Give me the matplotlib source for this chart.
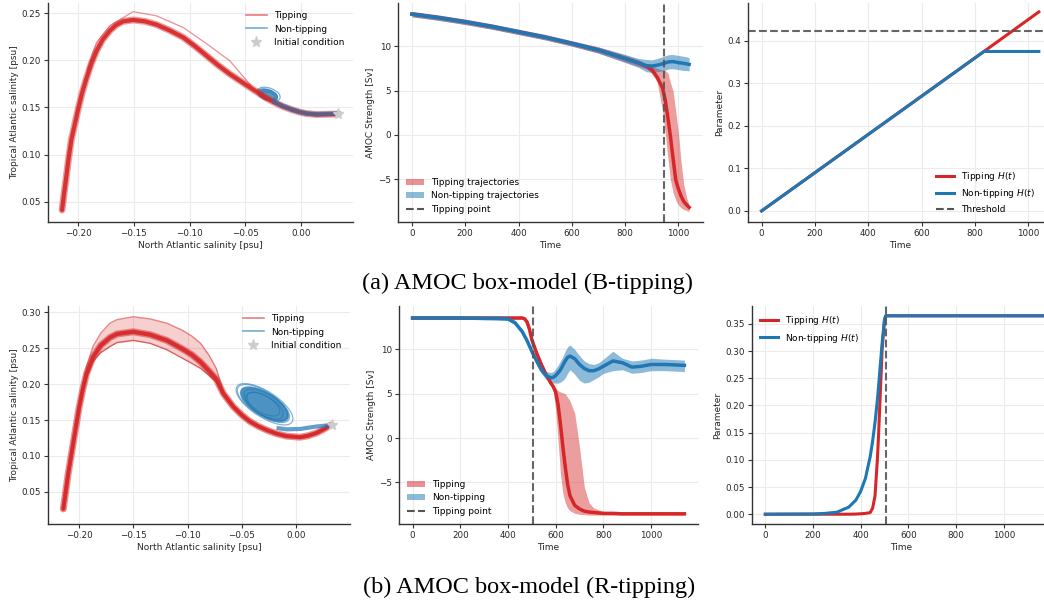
import matplotlib
matplotlib.use('Agg')
import matplotlib.pyplot as plt
from matplotlib.patches import Ellipse, Patch
from matplotlib.lines import Line2D

# ---------------- data: (a) B-tipping ----------------
# phase space, tipping bundle (centre path)
b_tip_x = [0.0335, 0.025, 0.014, 0.005, -0.001, -0.008, -0.016, -0.024, -0.031, -0.0428,
           -0.053, -0.0638, -0.075, -0.0847, -0.095, -0.1057, -0.118, -0.1296, -0.140, -0.1506,
           -0.1596, -0.166, -0.1716, -0.178, -0.1835, -0.188, -0.1925, -0.1965, -0.200, -0.203,
           -0.206, -0.2085, -0.2105, -0.2125, -0.2144]
b_tip_y = [0.1430, 0.1428, 0.1425, 0.1435, 0.1450, 0.1475, 0.1510, 0.1555, 0.1600, 0.1690,
           0.1770, 0.1855, 0.1955, 0.2050, 0.2150, 0.2245, 0.2320, 0.2380, 0.2415, 0.2430,
           0.2415, 0.2375, 0.2315, 0.2220, 0.2100, 0.1970, 0.1810, 0.1650, 0.1480, 0.1320,
           0.1160, 0.0960, 0.0770, 0.0590, 0.0410]
# an outlying tipping trajectory
b_out_x = [-0.045, -0.0638, -0.085, -0.1057, -0.13, -0.1506, -0.1716, -0.1835, -0.192]
b_out_y = [0.1735, 0.1995, 0.2180, 0.2350, 0.2475, 0.2518, 0.2368, 0.2190, 0.1900]
# non-tipping path and its loops
b_nt_x = [0.0335, 0.025, 0.014, 0.005, -0.001, -0.008, -0.016, -0.024]
b_nt_y = [0.1435, 0.1432, 0.1428, 0.1437, 0.1452, 0.1478, 0.1515, 0.1560]
b_loop_cx = [-0.029, -0.030, -0.0285, -0.029]
b_loop_cy = [0.1640, 0.1635, 0.1630, 0.1625]
b_loop_w = [0.022, 0.019, 0.016, 0.012]
b_loop_h = [0.013, 0.011, 0.0095, 0.007]
b_init = (0.0335, 0.1432)

# time series
b_time = [0, 100, 200, 300, 400, 500, 600, 700, 800, 850, 880, 900, 920, 940, 950, 960,
          970, 980, 990, 1000, 1010, 1020, 1030, 1040]
b_nontip_mean = [13.6, 13.2, 12.73, 12.2, 11.6, 11.0, 10.3, 9.55, 8.6, 8.1, 7.8, 7.75, 7.85,
                 8.0, 8.1, 8.2, 8.25, 8.25, 8.2, 8.13, 8.1, 8.05, 8.0, 7.94]
b_nontip_lo = [13.3, 12.9, 12.43, 11.9, 11.3, 10.7, 10.0, 9.2, 8.15, 7.6, 7.1, 7.05, 7.1,
               7.2, 7.3, 7.4, 7.45, 7.45, 7.4, 7.35, 7.3, 7.25, 7.25, 7.2]
b_nontip_hi = [13.9, 13.5, 13.03, 12.5, 11.9, 11.3, 10.6, 9.9, 9.05, 8.6, 8.5, 8.45, 8.6,
               8.8, 8.9, 9.0, 9.05, 9.05, 9.0, 8.95, 8.9, 8.85, 8.8, 8.7]
b_tip_mean = [13.6, 13.2, 12.73, 12.2, 11.6, 11.0, 10.3, 9.55, 8.6, 8.1, 7.7, 7.35, 6.5,
              5.3, 4.0, 2.0, -0.2, -2.7, -5.1, -6.1, -6.9, -7.5, -7.85, -8.15]
b_tip_lo = [13.3, 12.9, 12.43, 11.9, 11.3, 10.7, 10.0, 9.2, 8.2, 7.7, 7.45, 6.9, 6.0,
            2.7, 0.3, -2.5, -5.1, -6.5, -7.35, -7.9, -8.2, -8.4, -8.5, -8.6]
b_tip_hi = [13.9, 13.5, 13.03, 12.5, 11.9, 11.3, 10.6, 9.9, 9.0, 8.5, 8.0, 7.8, 7.5,
            7.3, 7.25, 7.0, 5.9, 4.9, 2.6, 0.2, -3.1, -5.6, -7.0, -7.9]
b_tip_point = 944

# parameter
b_h_time = [0, 834, 1040]
b_h_tip = [0.0, 0.375, 0.468]
b_h_nontip = [0.0, 0.375, 0.375]
b_threshold = 0.424

# ---------------- data: (b) R-tipping ----------------
r_tip_x = [0.0325, 0.026, 0.019, 0.011, 0.0037, -0.0086, -0.018, -0.027, -0.035, -0.0425,
           -0.050, -0.058, -0.067, -0.0735, -0.080, -0.088, -0.096, -0.1045, -0.119, -0.1345,
           -0.150, -0.165, -0.1715, -0.180, -0.187, -0.193, -0.1965, -0.200, -0.205, -0.210,
           -0.2145]
r_tip_y = [0.1432, 0.1375, 0.1320, 0.1280, 0.1260, 0.1275, 0.1310, 0.1360, 0.1415, 0.1480,
           0.1570, 0.1690, 0.1870, 0.2070, 0.2180, 0.2310, 0.2410, 0.2490, 0.2610, 0.2690,
           0.2730, 0.2700, 0.2650, 0.2540, 0.2380, 0.2150, 0.1930, 0.1670, 0.1210, 0.0750,
           0.0260]
r_tip_y_hi = [0.1432, 0.1380, 0.1325, 0.1285, 0.1265, 0.1280, 0.1315, 0.1365, 0.1420, 0.1485,
              0.1575, 0.1700, 0.1900, 0.2220, 0.2400, 0.2570, 0.2670, 0.2750, 0.2850, 0.2910,
              0.2940, 0.2900, 0.2850, 0.2710, 0.2530, 0.2250, 0.2000, 0.1700, 0.1215, 0.0755,
              0.0260]
r_tip_y_lo = [0.1432, 0.1370, 0.1315, 0.1275, 0.1255, 0.1270, 0.1305, 0.1355, 0.1410, 0.1475,
              0.1565, 0.1680, 0.1850, 0.2030, 0.2120, 0.2220, 0.2290, 0.2360, 0.2480, 0.2570,
              0.2610, 0.2580, 0.2525, 0.2440, 0.2320, 0.2100, 0.1900, 0.1650, 0.1205, 0.0745,
              0.0260]
r_nt_x = [0.0325, 0.026, 0.019, 0.011, 0.0037, -0.0086, -0.016]
r_nt_y = [0.1432, 0.1420, 0.1410, 0.1392, 0.1375, 0.1370, 0.1385]
r_loop_cx = [-0.029, -0.030, -0.029, -0.028, -0.029, -0.030]
r_loop_cy = [0.1720, 0.1730, 0.1720, 0.1710, 0.1700, 0.1720]
r_loop_w = [0.072, 0.066, 0.060, 0.054, 0.046, 0.040]
r_loop_h = [0.030, 0.028, 0.027, 0.025, 0.022, 0.020]
r_loop_angle = -49
r_init = (0.0328, 0.1435)

r_time = [0, 100, 200, 300, 350, 400, 430, 460, 470, 480, 490, 500, 520, 540, 560, 580, 590,
          600, 610, 620, 630, 640, 650, 660, 680, 700, 720, 740, 760, 780, 800, 840, 880, 920,
          960, 1000, 1060, 1140]
r_nontip_mean = [13.55, 13.55, 13.55, 13.5, 13.5, 13.45, 13.0, 12.0, 11.5, 11.0, 10.4, 9.8,
                 8.7, 7.7, 7.05, 6.8, 6.85, 7.05, 7.35, 7.7, 8.2, 8.7, 9.1, 9.25, 8.95, 8.3,
                 7.85, 7.6, 7.6, 7.8, 8.1, 8.7, 8.5, 8.0, 8.1, 8.3, 8.3, 8.2]
r_nontip_lo = [13.4, 13.4, 13.4, 13.35, 13.3, 13.25, 12.75, 11.75, 11.25, 10.75, 10.15, 9.5,
               8.4, 7.3, 6.6, 6.3, 6.2, 6.2, 6.2, 6.3, 6.5, 6.8, 7.3, 7.7, 7.2, 6.5, 6.2,
               6.3, 6.6, 6.9, 7.3, 7.6, 7.7, 7.3, 7.4, 7.6, 7.6, 7.5]
r_nontip_hi = [13.7, 13.7, 13.7, 13.65, 13.7, 13.65, 13.25, 12.25, 11.75, 11.25, 10.65, 10.1,
               9.0, 8.1, 7.5, 7.4, 7.5, 7.8, 8.2, 8.7, 9.2, 9.8, 10.3, 10.5, 10.0, 9.3, 8.7,
               8.4, 8.3, 8.5, 8.9, 9.8, 9.0, 8.7, 8.8, 9.0, 8.9, 8.8]
r_tip_mean = [13.55, 13.55, 13.55, 13.55, 13.55, 13.55, 13.55, 13.55, 13.45, 13.1, 12.3, 11.1,
              9.6, 8.3, 7.15, 6.2, 5.8, 5.2, 3.8, 1.6, -0.9, -3.2, -5.2, -6.5, -7.6, -8.0,
              -8.25, -8.35, -8.4, -8.45, -8.5, -8.5, -8.55, -8.55, -8.55, -8.55, -8.55, -8.55]
r_tip_lo = [13.4, 13.4, 13.4, 13.4, 13.4, 13.4, 13.4, 13.4, 13.3, 12.9, 12.0, 10.8, 9.3, 8.0,
            6.9, 5.9, 5.3, 3.2, -0.2, -4.0, -6.2, -7.3, -7.9, -8.2, -8.5, -8.6, -8.65, -8.7,
            -8.7, -8.7, -8.7, -8.7, -8.7, -8.7, -8.7, -8.7, -8.7, -8.7]
r_tip_hi = [13.7, 13.7, 13.7, 13.7, 13.7, 13.7, 13.7, 13.7, 13.6, 13.3, 12.6, 11.4, 9.9, 8.6,
            7.4, 6.4, 6.0, 5.6, 5.35, 5.2, 5.1, 5.0, 4.6, 4.2, 2.8, -1.0, -5.5, -7.3, -7.9,
            -8.1, -8.3, -8.35, -8.35, -8.35, -8.35, -8.35, -8.35, -8.35]
r_tip_point = 503

r_h_time = [0, 200, 250, 300, 350, 380, 400, 420, 440, 450, 460, 470, 475, 480, 490, 500, 505,
            1200]
r_h_nontip = [0.0, 0.0005, 0.0015, 0.0037, 0.013, 0.026, 0.042, 0.066, 0.106, 0.134, 0.168,
              0.210, 0.235, 0.262, 0.315, 0.358, 0.365, 0.365]
r_h_tip = [0.0, 0.0, 0.0, 0.0, 0.0, 0.0003, 0.0008, 0.0015, 0.003, 0.011, 0.033, 0.100,
           0.145, 0.198, 0.303, 0.358, 0.365, 0.365]
r_h_line = 505

# ---------------- style ----------------
RED = '#d62728'
BLUE = '#1f77b4'
DASH = '#555555'
GRID = '#ebebeb'
STAR = '#cccccc'
TXT = '#262626'

plt.rcParams.update({
    'font.family': ['DejaVu Sans'],
    'axes.edgecolor': '#333333',
    'axes.linewidth': 1.0,
    'xtick.color': '#333333',
    'ytick.color': '#333333',
    'xtick.labelcolor': TXT,
    'ytick.labelcolor': TXT,
    'axes.labelcolor': TXT,
    'legend.fontsize': 6.5,
})

W, H = 1044.0, 604.0
fig = plt.figure(figsize=(10.44, 6.04), dpi=100)


def add_ax(l, t, r, b):
    return fig.add_axes([l / W, 1 - b / H, (r - l) / W, (b - t) / H])


def style(ax):
    for s in ('top', 'right'):
        ax.spines[s].set_visible(False)
    ax.grid(True, color=GRID, lw=0.8)
    ax.set_axisbelow(True)
    ax.tick_params(labelsize=6.3, length=3, width=0.8, pad=2)


def phase_legend(ax):
    h = [Line2D([], [], color=RED, alpha=0.6, lw=1.2),
         Line2D([], [], color=BLUE, alpha=0.6, lw=1.2),
         Line2D([], [], ls='none', marker='*', color=STAR, markersize=8)]
    ax.legend(h, ['Tipping', 'Non-tipping', 'Initial condition'], loc='upper right',
              frameon=False, fontsize=6.5, handlelength=2.4)


def time_legend(ax, labels):
    h = [Patch(facecolor=RED, alpha=0.5, edgecolor='none'),
         Patch(facecolor=BLUE, alpha=0.5, edgecolor='none'),
         Line2D([], [], color=DASH, ls='--', lw=1.5)]
    ax.legend(h, labels, loc='lower left', frameon=False, fontsize=6.5)


# ---------- (a) panel 1 ----------
ax = add_ax(48, 3, 353, 222)
style(ax)
ax.plot(b_tip_x, b_tip_y, color=RED, lw=5.0, alpha=0.45, solid_capstyle='round')
ax.plot(b_tip_x, b_tip_y, color=RED, lw=3.0, alpha=0.9, solid_capstyle='round')
ax.plot(b_out_x, b_out_y, color=RED, lw=0.9, alpha=0.5)
ax.plot(b_nt_x, b_nt_y, color=BLUE, lw=3.5, alpha=0.6)
for i in range(len(b_loop_cx)):
    ax.add_patch(Ellipse((b_loop_cx[i], b_loop_cy[i]), b_loop_w[i], b_loop_h[i], angle=-25,
                         fill=False, edgecolor=BLUE, lw=0.9, alpha=0.6))
ax.add_patch(Ellipse((b_loop_cx[1], b_loop_cy[1]), b_loop_w[1], b_loop_h[1], angle=-25,
                     facecolor=BLUE, edgecolor='none', alpha=0.75))
ax.plot([b_init[0]], [b_init[1]], ls='none', marker='*', color=STAR, markersize=8)
ax.set_xlim(-0.227, 0.0467)
ax.set_ylim(0.0283, 0.261)
ax.set_xticks([-0.20, -0.15, -0.10, -0.05, 0.00])
ax.set_yticks([0.05, 0.10, 0.15, 0.20, 0.25])
ax.set_xlabel('North Atlantic salinity [psu]', fontsize=6.5, labelpad=2)
ax.set_ylabel('Tropical Atlantic salinity [psu]', fontsize=6.5, labelpad=2)
phase_legend(ax)

# ---------- (a) panel 2 ----------
ax = add_ax(398, 3, 703, 222)
style(ax)
ax.fill_between(b_time, b_tip_lo, b_tip_hi, color=RED, alpha=0.45, lw=0)
ax.fill_between(b_time, b_nontip_lo, b_nontip_hi, color=BLUE, alpha=0.5, lw=0)
ax.plot(b_time, b_tip_mean, color=RED, lw=2.5)
ax.plot(b_time, b_nontip_mean, color=BLUE, lw=2.5)
ax.axvline(b_tip_point, color=DASH, ls='--', lw=1.5, alpha=0.9)
ax.set_xlim(-52, 1092)
ax.set_ylim(-9.8, 14.85)
ax.set_xticks([0, 200, 400, 600, 800, 1000])
ax.set_yticks([-5, 0, 5, 10])
ax.set_xlabel('Time', fontsize=6.5, labelpad=2)
ax.set_ylabel('AMOC Strength [Sv]', fontsize=6.5, labelpad=2)
time_legend(ax, ['Tipping trajectories', 'Non-tipping trajectories', 'Tipping point'])

# ---------- (a) panel 3 ----------
ax = add_ax(747.7, 3, 1052.7, 222)
style(ax)
ax.plot(b_h_time, b_h_tip, color=RED, lw=2.2)
ax.plot(b_h_time, b_h_nontip, color=BLUE, lw=2.2)
ax.axhline(b_threshold, color=DASH, ls='--', lw=1.5, alpha=0.9)
ax.set_xlim(-52, 1092)
ax.set_ylim(-0.026, 0.489)
ax.set_xticks([0, 200, 400, 600, 800, 1000])
ax.set_yticks([0.0, 0.1, 0.2, 0.3, 0.4])
ax.set_xlabel('Time', fontsize=6.5, labelpad=2)
ax.set_ylabel('Parameter', fontsize=6.5, labelpad=2)
hh = [Line2D([], [], color=RED, lw=2.2), Line2D([], [], color=BLUE, lw=2.2),
      Line2D([], [], color=DASH, ls='--', lw=1.5)]
ax.legend(hh, ['Tipping $H(t)$', 'Non-tipping $H(t)$', 'Threshold'], loc='lower right',
          bbox_to_anchor=(0.97, 0.0), frameon=False, fontsize=6.5)

fig.text(0.505, 1 - 283 / H, '(a) AMOC box-model (B-tipping)', ha='center', va='center',
         family='Liberation Serif', fontsize=17.5, color='black')

# ---------- (b) panel 1 ----------
ax = add_ax(48, 306, 350, 524)
style(ax)
ax.fill_between(r_tip_x, r_tip_y_lo, r_tip_y_hi, color=RED, alpha=0.22, lw=0)
ax.plot(r_tip_x, r_tip_y_hi, color=RED, lw=1.0, alpha=0.55)
ax.plot(r_tip_x, r_tip_y_lo, color=RED, lw=1.0, alpha=0.7)
ax.plot(r_tip_x, r_tip_y, color=RED, lw=5.0, alpha=0.5, solid_capstyle='round')
ax.plot(r_tip_x, r_tip_y, color=RED, lw=3.0, alpha=0.9, solid_capstyle='round')
ax.plot(r_nt_x, r_nt_y, color=BLUE, lw=3.0, alpha=0.7)
for i in range(len(r_loop_cx)):
    ax.add_patch(Ellipse((r_loop_cx[i], r_loop_cy[i]), r_loop_w[i], r_loop_h[i],
                         angle=r_loop_angle, fill=False, edgecolor=BLUE, lw=0.9, alpha=0.55))
ax.add_patch(Ellipse((r_loop_cx[2], r_loop_cy[2]), r_loop_w[2], r_loop_h[2],
                     angle=r_loop_angle, facecolor=BLUE, edgecolor='none', alpha=0.8))
ax.plot([r_init[0]], [r_init[1]], ls='none', marker='*', color=STAR, markersize=8)
ax.set_xlim(-0.2286, 0.0498)
ax.set_ylim(0.005, 0.309)
ax.set_xticks([-0.20, -0.15, -0.10, -0.05, 0.00])
ax.set_yticks([0.05, 0.10, 0.15, 0.20, 0.25, 0.30])
ax.set_xlabel('North Atlantic salinity [psu]', fontsize=6.5, labelpad=2)
ax.set_ylabel('Tropical Atlantic salinity [psu]', fontsize=6.5, labelpad=2)
phase_legend(ax)

# ---------- (b) panel 2 ----------
ax = add_ax(399, 306, 698, 524)
style(ax)
ax.fill_between(r_time, r_tip_lo, r_tip_hi, color=RED, alpha=0.45, lw=0)
ax.fill_between(r_time, r_nontip_lo, r_nontip_hi, color=BLUE, alpha=0.5, lw=0)
ax.plot(r_time, r_tip_mean, color=RED, lw=2.5)
ax.plot(r_time, r_nontip_mean, color=BLUE, lw=2.5)
ax.axvline(r_tip_point, color=DASH, ls='--', lw=1.5, alpha=0.9)
ax.set_xlim(-57, 1197)
ax.set_ylim(-9.7, 14.9)
ax.set_xticks([0, 200, 400, 600, 800, 1000])
ax.set_yticks([-5, 0, 5, 10])
ax.set_xlabel('Time', fontsize=6.5, labelpad=2)
ax.set_ylabel('AMOC Strength [Sv]', fontsize=6.5, labelpad=2)
time_legend(ax, ['Tipping', 'Non-tipping', 'Tipping point'])

# ---------- (b) panel 3 ----------
ax = add_ax(751.7, 306, 1050.7, 524)
style(ax)
ax.plot(r_h_time, r_h_tip, color=RED, lw=2.2)
ax.plot(r_h_time, r_h_nontip, color=BLUE, lw=2.2)
ax.axvline(r_h_line, color=DASH, ls='--', lw=1.5, alpha=0.9)
ax.set_xlim(-57, 1197)
ax.set_ylim(-0.018, 0.383)
ax.set_xticks([0, 200, 400, 600, 800, 1000])
ax.set_yticks([0.00, 0.05, 0.10, 0.15, 0.20, 0.25, 0.30, 0.35])
ax.set_xlabel('Time', fontsize=6.5, labelpad=2)
ax.set_ylabel('Parameter', fontsize=6.5, labelpad=2)
hh = [Line2D([], [], color=RED, lw=2.2), Line2D([], [], color=BLUE, lw=2.2)]
ax.legend(hh, ['Tipping $H(t)$', 'Non-tipping $H(t)$'], loc='upper left', frameon=False,
          fontsize=6.5)

fig.text(0.507, 1 - 587 / H, '(b) AMOC box-model (R-tipping)', ha='center', va='center',
         family='Liberation Serif', fontsize=17.5, color='black')

fig.savefig('out.png', dpi=100)
